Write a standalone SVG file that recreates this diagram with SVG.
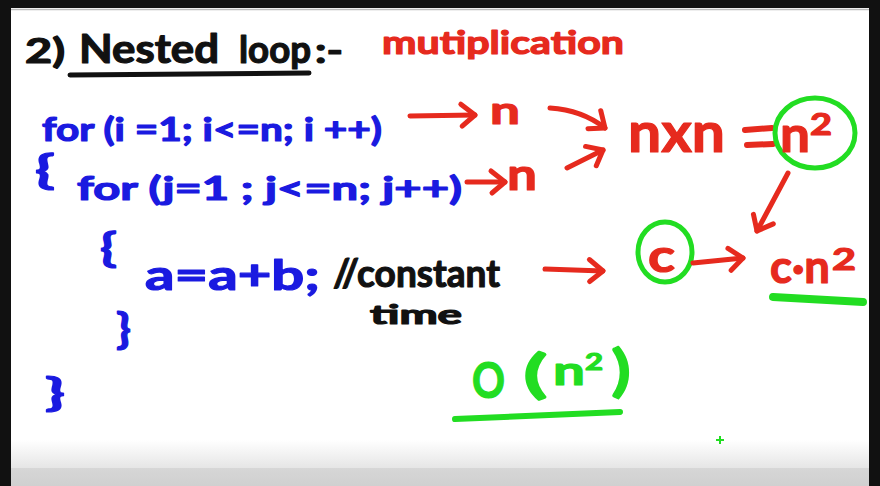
<svg xmlns="http://www.w3.org/2000/svg" width="880" height="486" viewBox="0 0 880 486">
<style>
.t{font-family:Lato,"DejaVu Sans",sans-serif;font-weight:bold;stroke-linejoin:round;stroke-linecap:round}
.bk{fill:#111;stroke:#111;stroke-width:1.2}
.rd{fill:#e62a1e;stroke:#e62a1e;stroke-width:1.2}
.bl{fill:#1a1ae0;stroke:#1a1ae0;stroke-width:1.2}
.gr{fill:#22dd22;stroke:#22dd22;stroke-width:1.2}
.ln{fill:none;stroke-linecap:round;stroke-linejoin:round}
.ra{stroke:#e62a1e;stroke-width:5;marker-end:url(#ah)}
</style>
<defs>
<marker id="ah" viewBox="-18 -14 22 28" markerWidth="22" markerHeight="28" refX="0" refY="0" orient="auto" markerUnits="userSpaceOnUse" overflow="visible">
<path d="M-14,-11 L0,0 L-13,11" fill="none" stroke="#e62a1e" stroke-width="5" stroke-linecap="round" stroke-linejoin="round"/>
</marker>
<linearGradient id="bot" x1="0" y1="0" x2="0" y2="1">
<stop offset="0" stop-color="#ffffff"/>
<stop offset="0.6" stop-color="#e6e6e6"/>
<stop offset="0.62" stop-color="#d6d6d6"/>
<stop offset="1" stop-color="#d0d0d0"/>
</linearGradient>
</defs>
<rect width="880" height="486" fill="#111"/>
<rect x="11" y="8" width="858" height="478" fill="#fff"/>
<rect x="11" y="440" width="858" height="46" fill="url(#bot)"/>
<line x1="11" y1="9.5" x2="869" y2="9.5" stroke="#bbb" stroke-width="1.5"/>

<g id="title">
<text class="t bk" x="25" y="63" font-size="34" textLength="40" lengthAdjust="spacingAndGlyphs">2)</text>
<text class="t bk" x="79" y="63" font-size="40" textLength="140" lengthAdjust="spacingAndGlyphs">Nested</text>
<text class="t bk" x="239" y="63" font-size="38" textLength="72" lengthAdjust="spacingAndGlyphs">loop</text>
<text class="t bk" x="315" y="63" font-size="34" textLength="28" lengthAdjust="spacingAndGlyphs">:-</text>
<path class="ln" d="M70 75 L309 73" stroke="#111" stroke-width="5"/>
</g>
<g id="subtitle">
<text class="t rd" x="382" y="54" font-size="32" textLength="242" lengthAdjust="spacingAndGlyphs">mutiplication</text>
</g>

<g id="code">
<text class="t bl" x="42" y="141" font-size="32" textLength="340" lengthAdjust="spacingAndGlyphs">for (i =1; i&lt;=n; i ++)</text>
<text class="t bl" x="35" y="184" font-size="40" textLength="20" lengthAdjust="spacingAndGlyphs">{</text>
<text class="t bl" x="77" y="200" font-size="32" textLength="385" lengthAdjust="spacingAndGlyphs">for (j=1 ; j&lt;=n; j++)</text>
<text class="t bl" x="100" y="262" font-size="40" textLength="17" lengthAdjust="spacingAndGlyphs">{</text>
<text class="t bl" x="145" y="290" font-size="42" textLength="175" lengthAdjust="spacingAndGlyphs">a=a+b;</text>
<text class="t bl" x="116" y="344" font-size="42" textLength="15" lengthAdjust="spacingAndGlyphs">}</text>
<text class="t bl" x="45" y="406" font-size="38" textLength="20" lengthAdjust="spacingAndGlyphs">}</text>
</g>
<g id="comment">
<text class="t bk" x="333" y="287" font-size="39" textLength="167" lengthAdjust="spacingAndGlyphs">//constant</text>
<text class="t bk" x="370" y="324" font-size="26" textLength="92" lengthAdjust="spacingAndGlyphs">time</text>
</g>

<g id="n1"><text class="t rd" x="490" y="124" font-size="38" textLength="30" lengthAdjust="spacingAndGlyphs">n</text></g>
<g id="n2"><text class="t rd" x="507" y="190" font-size="44" textLength="30" lengthAdjust="spacingAndGlyphs">n</text></g>
<g id="product">
<text class="t rd" x="628" y="152" font-size="55" textLength="97" lengthAdjust="spacingAndGlyphs">nxn</text>
<path class="ln" d="M745 130 L772 128 M747 145 L773 144" stroke="#e62a1e" stroke-width="6"/>
</g>
<g id="n-squared">
<ellipse cx="815" cy="133" rx="40" ry="35" fill="none" stroke="#22dd22" stroke-width="5"/>
<text class="t rd" x="780" y="152" font-size="50" textLength="30" lengthAdjust="spacingAndGlyphs">n</text>
<text class="t rd" x="810" y="135" font-size="30" textLength="22" lengthAdjust="spacingAndGlyphs">2</text>
</g>
<g id="c-const">
<ellipse cx="665" cy="252" rx="27" ry="30" fill="none" stroke="#22dd22" stroke-width="5"/>
<text class="t rd" x="648" y="272" font-size="46" textLength="27" lengthAdjust="spacingAndGlyphs">c</text>
</g>
<g id="c-n-squared">
<text class="t rd" x="770" y="283" font-size="46" textLength="60" lengthAdjust="spacingAndGlyphs">c·n</text>
<text class="t rd" x="832" y="270" font-size="30" textLength="24" lengthAdjust="spacingAndGlyphs">2</text>
<path class="ln" d="M773 297 L863 302" stroke="#22dd22" stroke-width="8"/>
</g>
<g id="big-o">
<text class="t gr" x="472" y="398" font-size="50" textLength="33" lengthAdjust="spacingAndGlyphs">O</text>
<text class="t gr" x="523" y="392" font-size="52" textLength="25" lengthAdjust="spacingAndGlyphs">(</text>
<text class="t gr" x="553" y="385" font-size="40" textLength="32" lengthAdjust="spacingAndGlyphs">n</text>
<text class="t gr" x="585" y="370" font-size="22" textLength="18" lengthAdjust="spacingAndGlyphs">2</text>
<text class="t gr" x="611" y="390" font-size="56" textLength="20" lengthAdjust="spacingAndGlyphs">)</text>
<path class="ln" d="M455 419 L620 412" stroke="#22dd22" stroke-width="6"/>
<path d="M720 436 L720 444 M716 440 L724 440" stroke="#22dd22" stroke-width="2"/>
</g>

<g id="connectors" class="ln">
<path class="ra" d="M410 116 L475 115"/>
<path class="ra" d="M467 182 L505 182"/>
<path class="ra" d="M550 108 Q582 110 605 128"/>
<path class="ra" d="M567 168 L603 150"/>
<path class="ra" d="M788 173 L757 231"/>
<path class="ra" d="M545 269 L603 271"/>
<path class="ra" d="M693 263 L743 258"/>
</g>
</svg>
